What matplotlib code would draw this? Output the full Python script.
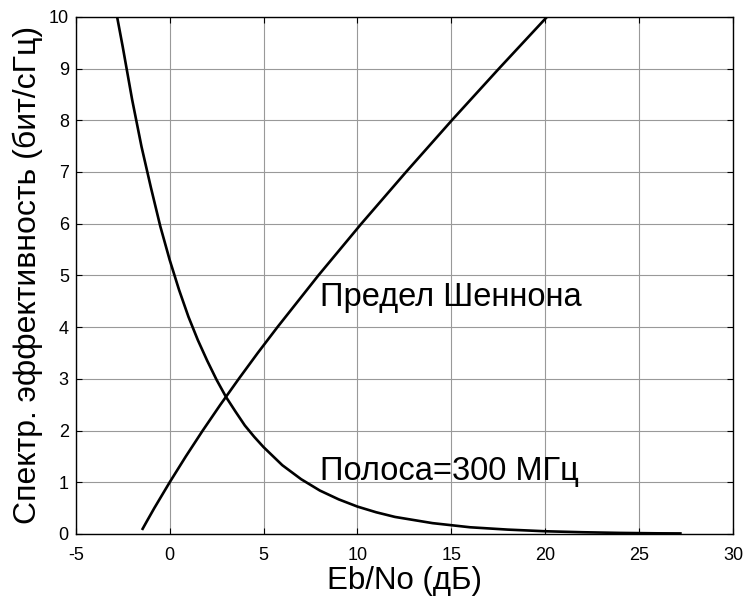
import matplotlib
matplotlib.use("Agg")
import matplotlib.pyplot as plt

# Shannon limit curve (Eb/No in dB vs spectral efficiency)
shannon_x = [-1.44, -1.21, -0.82, -0.41, 0.0, 0.86, 1.76, 2.70, 3.68, 4.69, 5.74, 7.92, 10.21, 12.59, 15.03, 17.54, 20.1]
shannon_y = [0.1, 0.25, 0.5, 0.75, 1.0, 1.5, 2.0, 2.5, 3.0, 3.5, 4.0, 5.0, 6.0, 7.0, 8.0, 9.0, 10.0]

# Bandwidth = 300 MHz curve
band_x = [-2.8, -2.5, -2, -1.5, -1, -0.5, 0, 0.5, 1, 1.5, 2, 2.5, 3, 3.5, 4, 4.5, 5, 6, 7, 8, 9, 10,
          11, 12, 14, 16, 18, 20, 22, 24, 26, 27.2]
band_y = [10.0, 9.42, 8.4, 7.49, 6.7, 5.95, 5.3, 4.72, 4.2, 3.75, 3.35, 2.98, 2.65, 2.37, 2.1, 1.88,
          1.68, 1.33, 1.06, 0.84, 0.67, 0.53, 0.42, 0.33, 0.21, 0.13, 0.085, 0.053, 0.034, 0.021,
          0.013, 0.011]

xticks = [-5, 0, 5, 10, 15, 20, 25, 30]
yticks = [0, 1, 2, 3, 4, 5, 6, 7, 8, 9, 10]

plt.rcParams['font.family'] = ['Liberation Sans', 'DejaVu Sans']
plt.rcParams['axes.unicode_minus'] = False

fig = plt.figure(figsize=(7.43, 6.0), dpi=100)
ax = fig.add_axes([0.102, 0.11, 0.8845, 0.862])

ax.plot(shannon_x, shannon_y, color='black', linewidth=1.9)
ax.plot(band_x, band_y, color='black', linewidth=1.9)

ax.set_xlim(-5, 30)
ax.set_ylim(0, 10)
ax.set_xticks(xticks)
ax.set_yticks(yticks)
ax.grid(True, color='0.6', linewidth=0.8)
ax.set_axisbelow(True)
ax.tick_params(direction='in', length=4, width=0.8, labelsize=13,
               top=True, right=True, colors='black')
ax.tick_params(axis='x', pad=9)
ax.tick_params(axis='y', pad=5)
for sp in ax.spines.values():
    sp.set_linewidth(1.0)
    sp.set_color('black')

ax.set_xlabel('Eb/No (дБ)', fontsize=22.5, labelpad=2)
ax.set_ylabel('Спектр. эффективность (бит/сГц)', fontsize=23, labelpad=4)

ax.text(8.0, 4.4, 'Предел Шеннона', fontsize=23.5, ha='left', va='baseline')
ax.text(8.0, 1.05, 'Полоса=300 МГц', fontsize=23.5, ha='left', va='baseline')

fig.savefig('out.png', dpi=100)
